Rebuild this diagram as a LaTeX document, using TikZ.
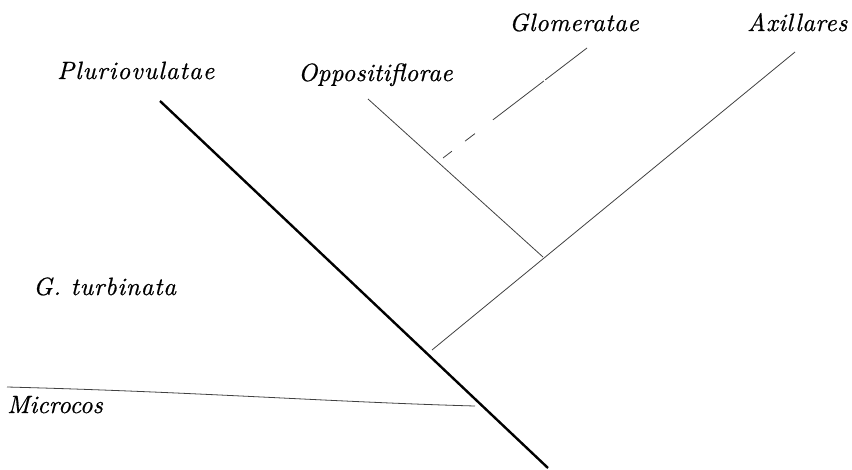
\documentclass[tikz,border=0pt]{standalone}
\usepackage{fontspec}
\usetikzlibrary{calc}
\newfontfamily\labfont[FakeBold=0.6]{lmroman10-italic.otf}
\tikzset{
  lab/.style={inner sep=0pt, anchor=base west, font=\labfont\fontsize{25}{28}\selectfont\addfontfeature{LetterSpace=#1}},
  thickbranch/.style={line width=2.4pt, black},
  thinbranch/.style={line width=0.8pt, black!75},
}
\begin{document}
\begin{tikzpicture}[x=1pt,y=-1pt]
\useasboundingbox (0,0) rectangle (852,469);
% labels
\node[lab=2.0] (glo) at (509,31) {Glomeratae};
\node[lab=1.9] (axi) at (747,31) {Axillares};
\node[lab=4.2] (plu) at (57,79) {Pluriovulatae};
\node[lab=1.1] (opp) at (298,81) {Oppositiflorae};
\node[lab=3.0] (tur) at (33,295) {G. turbinata};
\node[lab=0.0] (mic) at (7,413) {Microcos};
% branch points
\coordinate (t0) at (160,101);
\coordinate (t1) at (548,468);
\coordinate (a0) at (795,52);
\coordinate (a1) at (432,350);
\coordinate (o0) at (368,99);
\coordinate (o1) at (543,257);
\coordinate (g0) at (587,48);
\coordinate (g1) at (443,158);
\coordinate (m0) at (7,387);
\coordinate (m1) at (475,406);
% branches
\draw[thickbranch] (t0) -- (t1);
\draw[thinbranch] (a0) -- (a1);
\draw[thinbranch] (o0) -- (o1);
\draw[thinbranch] (g0) -- ($(g0)!0.29!(g1)$);
\draw[thinbranch] ($(g0)!0.30!(g1)$) -- ($(g0)!0.653!(g1)$);
\draw[thinbranch] ($(g0)!0.778!(g1)$) -- ($(g0)!0.847!(g1)$);
\draw[thinbranch] ($(g0)!0.938!(g1)$) -- (g1);
\draw[thinbranch] (m0) .. controls (200,392) and (330,402) .. (m1);
\end{tikzpicture}
\end{document}
